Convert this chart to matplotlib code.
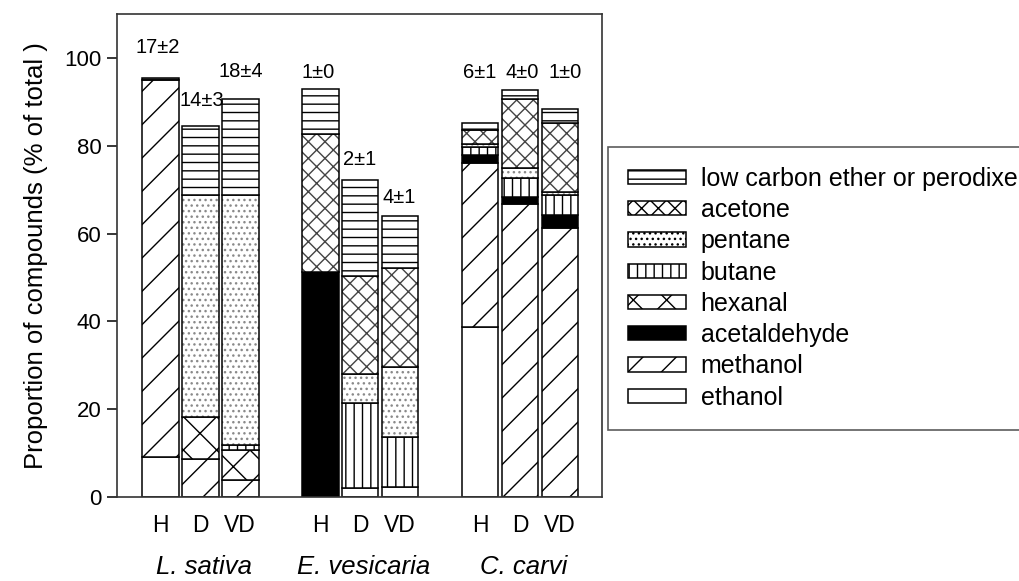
import numpy as np
import matplotlib
matplotlib.use("Agg")
import matplotlib.pyplot as plt
from matplotlib.patches import Patch

plt.rcParams['font.family'] = ['Liberation Sans', 'DejaVu Sans']
plt.rcParams['hatch.linewidth'] = 1.0

species = ['L. sativa', 'E. vesicaria', 'C. carvi']
treatments = ['H', 'D', 'VD']

# one value per bar: L.s H, D, VD, E.v H, D, VD, C.c H, D, VD
ethanol      = [9.0, 0, 0, 0, 2.0, 2.3, 38.8, 0, 0]
methanol     = [86.0, 8.6, 3.9, 0, 0, 0, 37.2, 66.7, 61.2]
acetaldehyde = [0, 0, 0, 51.3, 0, 0, 2.0, 1.7, 3.0]
hexanal      = [0, 9.7, 6.8, 0, 0, 0, 0, 0, 0]
butane       = [0, 0, 1.1, 0, 19.3, 11.4, 1.6, 4.2, 4.6]
pentane      = [0, 50.5, 57.0, 0, 6.6, 16.0, 0.9, 2.3, 0.7]
acetone      = [0, 0, 0, 31.4, 22.4, 22.4, 3.0, 15.7, 15.6]
ether        = [0.5, 15.6, 21.8, 10.2, 21.9, 11.9, 1.6, 2.0, 3.2]

n_labels = ['17±2', '14±3', '18±4', '1±0', '2±1', '4±1', '6±1', '4±0', '1±0']

# stacking order bottom -> top, with (name, values, facecolor, hatch, hatch colour)
layers = [
    ('ethanol', ethanol, 'white', None, 'black'),
    ('methanol', methanol, 'white', '/', 'black'),
    ('acetaldehyde', acetaldehyde, 'black', None, 'black'),
    ('hexanal', hexanal, 'white', 'x', 'black'),
    ('butane', butane, 'white', '||', 'black'),
    ('pentane', pentane, 'white', '...', '#8a8a8a'),
    ('acetone', acetone, 'white', 'xx', '#444444'),
    ('low carbon ether or perodixe', ether, 'white', '--', 'black'),
]

x = np.array([g * 4 + i for g in range(3) for i in range(3)], dtype=float)
width = 0.92

fig = plt.figure(figsize=(10.19, 5.81), dpi=100)
ax = fig.add_axes([0.1148, 0.1446, 0.476, 0.8313])

bottom = np.zeros(len(x))
for name, vals, fc, hatch, hc in layers:
    vals = np.array(vals, dtype=float)
    for xi, b, v in zip(x, bottom, vals):
        if v <= 0:
            continue
        # hatch layer, then a black outline on top
        ax.bar(xi, v, width, bottom=b, color=fc, edgecolor=hc, hatch=hatch, linewidth=0)
        ax.bar(xi, v, width, bottom=b, fill=False, edgecolor='black', linewidth=1.1)
    bottom += vals

# sample size labels above the bars
label_y = [102.3, 90.4, 96.8, 96.6, 76.8, 68.3, 96.6, 96.6, 96.6]
label_dx = [-0.05, 0.05, 0.02, -0.05, 0.0, -0.02, 0.0, 0.05, 0.12]
for xi, dx, ly, t in zip(x, label_dx, label_y, n_labels):
    ax.text(xi + dx, ly, t, ha='center', va='center', fontsize=14.5)

ax.set_xlim(-1.08, 11.05)
ax.set_ylim(0, 110)
ax.set_yticks([0, 20, 40, 60, 80, 100])
ax.tick_params(axis='y', direction='out', length=7, width=1.1, labelsize=16, pad=4)
ax.set_xticks(x)
ax.set_xticklabels(treatments * 3)
ax.tick_params(axis='x', length=0, labelsize=16.5, pad=12)
for s in ax.spines.values():
    s.set_linewidth(1.2)
    s.set_color('#333333')

ax.set_ylabel('Proportion of compounds (% of total )', fontsize=18.5, labelpad=12)

for g, sp in enumerate(species):
    ax.text(g * 4 + 1 + 0.1, -0.145, sp, transform=ax.get_xaxis_transform(),
            ha='center', va='center', fontsize=18.5, style='italic')

handles = []
for name, vals, fc, hatch, hc in layers[::-1]:
    handles.append(Patch(facecolor=fc, edgecolor='black', hatch=hatch, linewidth=1.1, label=name))
leg = fig.legend(handles=handles, loc='upper left', bbox_to_anchor=(0.5967, 0.747),
                 fontsize=18, frameon=True, fancybox=False, edgecolor='#333333',
                 handlelength=2.3, handleheight=0.5, labelspacing=0.29,
                 handletextpad=0.6, borderpad=0.8, borderaxespad=0)
leg.get_frame().set_linewidth(1.2)

fig.savefig('out.png', dpi=100)
